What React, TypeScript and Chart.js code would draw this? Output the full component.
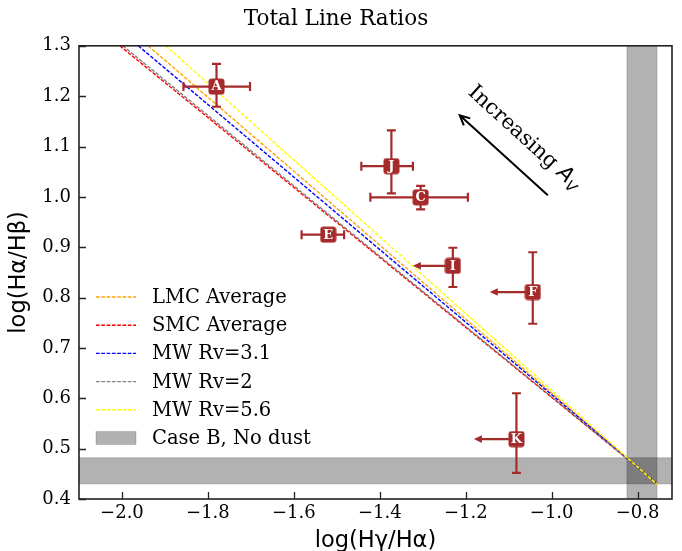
import React, { useEffect, useRef } from 'react';
import { Chart, registerables } from 'chart.js';

Chart.register(...registerables);

// ---- Data ----
const xTickValues = [-2.0, -1.8, -1.6, -1.4, -1.2, -1.0, -0.8];
const yTickValues = [0.4, 0.5, 0.6, 0.7, 0.8, 0.9, 1.0, 1.1, 1.2, 1.3];

const pointLabels = ['A', 'J', 'C', 'E', 'I', 'F', 'K'];
const pointX = [-1.780, -1.373, -1.305, -1.520, -1.230, -1.044, -1.082];
const pointY = [1.219, 1.061, 0.999, 0.925, 0.863, 0.811, 0.519];
const xErrMinus = [0.077, 0.070, 0.117, 0.062, 0, 0, 0];
const xErrPlus = [0.078, 0.050, 0.110, 0.037, 0, 0, 0];
const yErrMinus = [0.040, 0.054, 0.024, 0, 0.042, 0.063, 0.067];
const yErrPlus = [0.045, 0.071, 0.023, 0, 0.036, 0.079, 0.091];
const xUpperLimitLength = [0, 0, 0, 0, 0.093, 0.100, 0.099];

const curveNames = ['LMC Average', 'SMC Average', 'MW Rv=3.1', 'MW Rv=2', 'MW Rv=5.6'];
const curveColors = ['#ffa500', '#ff0000', '#0000ff', '#808080', '#ffff00'];
const curveStartX = [-1.939, -2.005, -1.962, -1.998, -1.898];
const curveStartY = [1.3, 1.3, 1.3, 1.3, 1.3];
const curveEndX = [-0.755, -0.755, -0.755, -0.755, -0.755];
const curveEndY = [0.4303, 0.4317, 0.4308, 0.4316, 0.4293];
const curveDrawOrder = [5, 4, 3, 2, 1];

const caseBX = [-0.825, -0.755];
const caseBY = [0.430, 0.482];
const caseBLabel = 'Case B, No dust';

const arrowTip = { x: -1.214, y: 1.162 };
const arrowTail = { x: -1.009, y: 1.003 };
const arrowTextPos = { x: -1.061, y: 1.120 };

const MARKER_COLOR = '#a52a2a';
const SERIF = "'DejaVu Serif', serif";
const SANS = "'DejaVu Sans', sans-serif";

const fmt = (v: number) => v.toFixed(1).replace('-', '\u2212');

function makeMarker(size: number, color: string) {
  const c = document.createElement('canvas');
  c.width = size;
  c.height = size;
  const g = c.getContext('2d')!;
  g.fillStyle = color;
  g.beginPath();
  (g as any).roundRect(0.5, 0.5, size - 1, size - 1, 3);
  g.fill();
  return c;
}

const overlayPlugin = {
  id: 'overlay',
  beforeDatasetsDraw(chart: any) {
    const { ctx, chartArea, scales } = chart;
    const x = scales.x, y = scales.y;
    ctx.save();
    ctx.beginPath();
    ctx.rect(chartArea.left, chartArea.top, chartArea.right - chartArea.left, chartArea.bottom - chartArea.top);
    ctx.clip();
    const x0 = x.getPixelForValue(caseBX[0]);
    const x1 = x.getPixelForValue(caseBX[1]);
    const y0 = y.getPixelForValue(caseBY[1]);
    const y1 = y.getPixelForValue(caseBY[0]);
    ctx.fillStyle = 'rgba(0,0,0,0.3)';
    ctx.strokeStyle = 'rgba(0,0,0,0.12)';
    ctx.lineWidth = 1.5;
    ctx.fillRect(x0, chartArea.top, x1 - x0, chartArea.bottom - chartArea.top);
    ctx.strokeRect(x0, chartArea.top - 5, x1 - x0, chartArea.bottom - chartArea.top + 10);
    ctx.fillRect(chartArea.left, y0, chartArea.right - chartArea.left, y1 - y0);
    ctx.strokeRect(chartArea.left - 5, y0, chartArea.right - chartArea.left + 10, y1 - y0);
    ctx.restore();
  },
  beforeDatasetDraw(chart: any, args: any) {
    if (args.index !== 0) return;
    const { ctx, scales } = chart;
    const x = scales.x, y = scales.y;
    ctx.save();
    ctx.strokeStyle = MARKER_COLOR;
    ctx.fillStyle = MARKER_COLOR;
    ctx.lineWidth = 2.2;
    const cap = 4.5;
    for (let i = 0; i < pointX.length; i++) {
      const px = x.getPixelForValue(pointX[i]);
      const py = y.getPixelForValue(pointY[i]);
      if (xErrMinus[i] || xErrPlus[i]) {
        const xl = x.getPixelForValue(pointX[i] - xErrMinus[i]);
        const xr = x.getPixelForValue(pointX[i] + xErrPlus[i]);
        ctx.beginPath();
        ctx.moveTo(xl, py); ctx.lineTo(xr, py);
        ctx.moveTo(xl, py - cap); ctx.lineTo(xl, py + cap);
        ctx.moveTo(xr, py - cap); ctx.lineTo(xr, py + cap);
        ctx.stroke();
      }
      if (yErrMinus[i] || yErrPlus[i]) {
        const yb = y.getPixelForValue(pointY[i] - yErrMinus[i]);
        const yt = y.getPixelForValue(pointY[i] + yErrPlus[i]);
        ctx.beginPath();
        ctx.moveTo(px, yb); ctx.lineTo(px, yt);
        ctx.moveTo(px - cap, yb); ctx.lineTo(px + cap, yb);
        ctx.moveTo(px - cap, yt); ctx.lineTo(px + cap, yt);
        ctx.stroke();
      }
      if (xUpperLimitLength[i]) {
        const xa = x.getPixelForValue(pointX[i] - xUpperLimitLength[i]);
        ctx.beginPath();
        ctx.moveTo(px, py); ctx.lineTo(xa + 5, py);
        ctx.stroke();
        ctx.beginPath();
        ctx.moveTo(xa, py);
        ctx.lineTo(xa + 8, py - 3.8);
        ctx.lineTo(xa + 8, py + 3.8);
        ctx.closePath();
        ctx.fill();
      }
    }
    ctx.restore();
  },
  afterDatasetsDraw(chart: any) {
    const { ctx, chartArea, scales } = chart;
    const x = scales.x, y = scales.y;
    ctx.save();
    // point letters
    const meta = chart.getDatasetMeta(0);
    ctx.fillStyle = '#ffffff';
    ctx.font = `bold 13px ${SERIF}`;
    ctx.textAlign = 'center';
    ctx.textBaseline = 'middle';
    meta.data.forEach((el: any, i: number) => {
      ctx.fillText(pointLabels[i], el.x, el.y + 0.5);
    });

    // annotation arrow
    const tx = x.getPixelForValue(arrowTip.x), ty = y.getPixelForValue(arrowTip.y);
    const sx = x.getPixelForValue(arrowTail.x), sy = y.getPixelForValue(arrowTail.y);
    const ang = Math.atan2(ty - sy, tx - sx);
    ctx.strokeStyle = '#000';
    ctx.lineWidth = 2;
    ctx.beginPath();
    ctx.moveTo(sx, sy);
    ctx.lineTo(tx, ty);
    const hl = 11, ha = 0.45;
    ctx.moveTo(tx - hl * Math.cos(ang - ha), ty - hl * Math.sin(ang - ha));
    ctx.lineTo(tx, ty);
    ctx.lineTo(tx - hl * Math.cos(ang + ha), ty - hl * Math.sin(ang + ha));
    ctx.stroke();

    // annotation text
    const cx = x.getPixelForValue(arrowTextPos.x), cy = y.getPixelForValue(arrowTextPos.y);
    ctx.translate(cx, cy);
    ctx.rotate(ang + Math.PI);
    ctx.fillStyle = '#000';
    ctx.textAlign = 'left';
    ctx.textBaseline = 'alphabetic';
    const mainFont = `21px ${SERIF}`;
    const aFont = `italic 21px ${SANS}`;
    const vFont = `italic 14.5px ${SANS}`;
    ctx.font = mainFont;
    const w1 = ctx.measureText('Increasing ').width;
    ctx.font = aFont;
    const w2 = ctx.measureText('A').width;
    ctx.font = vFont;
    const w3 = ctx.measureText('V').width;
    let startX = -(w1 + w2 + w3) / 2;
    const base = 7.5;
    ctx.font = mainFont;
    ctx.fillText('Increasing ', startX, base);
    startX += w1;
    ctx.font = aFont;
    ctx.fillText('A', startX, base);
    startX += w2;
    ctx.font = vFont;
    ctx.fillText('V', startX, base + 4);
    ctx.restore();

    // legend
    ctx.save();
    const rowY0 = 297, rowStep = 28.2, lx0 = 96, lx1 = 136, tx0 = 152;
    ctx.font = `19.5px ${SERIF}`;
    ctx.textAlign = 'left';
    ctx.textBaseline = 'middle';
    curveNames.forEach((name, i) => {
      const ry = rowY0 + i * rowStep;
      ctx.strokeStyle = curveColors[i];
      ctx.lineWidth = 1.4;
      ctx.setLineDash([3.7, 1.6]);
      ctx.beginPath();
      ctx.moveTo(lx0, ry);
      ctx.lineTo(lx1, ry);
      ctx.stroke();
      ctx.setLineDash([]);
      ctx.fillStyle = '#000';
      ctx.fillText(name, tx0, ry + 1);
    });
    const ry = rowY0 + curveNames.length * rowStep;
    ctx.fillStyle = 'rgba(0,0,0,0.3)';
    ctx.fillRect(lx0, ry - 6.5, lx1 - lx0, 13);
    ctx.strokeStyle = 'rgba(0,0,0,0.15)';
    ctx.lineWidth = 1.2;
    ctx.strokeRect(lx0, ry - 6.5, lx1 - lx0, 13);
    ctx.fillStyle = '#000';
    ctx.fillText(caseBLabel, tx0, ry + 1);
    ctx.restore();

    // inward ticks + frame
    ctx.save();
    ctx.strokeStyle = '#222';
    ctx.lineWidth = 1.3;
    ctx.beginPath();
    xTickValues.forEach((v) => {
      const p = Math.round(x.getPixelForValue(v)) + 0.5;
      ctx.moveTo(p, chartArea.bottom);
      ctx.lineTo(p, chartArea.bottom - 7);
    });
    yTickValues.forEach((v) => {
      const p = Math.round(y.getPixelForValue(v)) + 0.5;
      ctx.moveTo(chartArea.left, p);
      ctx.lineTo(chartArea.left + 7, p);
    });
    ctx.stroke();
    ctx.lineWidth = 1.6;
    ctx.strokeRect(chartArea.left, chartArea.top, chartArea.right - chartArea.left, chartArea.bottom - chartArea.top);
    ctx.restore();
  },
};

export default function App() {
  const ref = useRef<HTMLCanvasElement | null>(null);
  useEffect(() => {
    if (!ref.current) return;
    const marker = makeMarker(17, MARKER_COLOR);
    const lineDatasets = curveNames.map((name, i) => ({
      type: 'line' as const,
      label: name,
      data: [
        { x: curveStartX[i], y: curveStartY[i] },
        { x: curveEndX[i], y: curveEndY[i] },
      ],
      borderColor: curveColors[i],
      borderWidth: 1.4,
      borderDash: [3.7, 1.6],
      pointRadius: 0,
      fill: false,
      order: curveDrawOrder[i],
    }));
    const chart = new Chart(ref.current, {
      type: 'scatter',
      data: {
        datasets: [
          {
            type: 'scatter' as const,
            label: 'Regions',
            data: pointX.map((v, i) => ({ x: v, y: pointY[i] })),
            pointStyle: marker as any,
            pointRadius: 8,
            backgroundColor: MARKER_COLOR,
            order: 0,
          },
          ...lineDatasets,
        ] as any,
      },
      options: {
        responsive: false,
        maintainAspectRatio: false,
        animation: false,
        layout: { padding: { left: 0, right: 10, top: 0, bottom: 0 } },
        plugins: {
          legend: { display: false },
          tooltip: { enabled: false },
          title: {
            display: true,
            text: 'Total Line Ratios',
            color: '#000',
            font: { family: SERIF, size: 21.5, weight: 'normal' as any },
            padding: { top: 7, bottom: 13 },
          },
        },
        scales: {
          x: {
            type: 'linear',
            min: -2.1,
            max: -0.72,
            afterBuildTicks: (s: any) => {
              s.ticks = xTickValues.map((v) => ({ value: v }));
            },
            afterFit: (s: any) => {
              s.height = 52;
            },
            grid: { display: false, drawTicks: false },
            border: { display: false },
            ticks: {
              color: '#000',
              font: { family: SERIF, size: 18 },
              padding: 4,
              autoSkip: false,
              maxRotation: 0,
              callback: (v: any) => fmt(Number(v)),
            },
            title: {
              display: true,
              text: 'log(H\u03b3/H\u03b1)',
              color: '#000',
              font: { family: SANS, size: 22.5 },
              padding: { top: 0, bottom: -4 },
            },
          },
          y: {
            type: 'linear',
            min: 0.4,
            max: 1.3,
            afterBuildTicks: (s: any) => {
              s.ticks = yTickValues.map((v) => ({ value: v }));
            },
            afterFit: (s: any) => {
              s.width = 79;
            },
            grid: { display: false, drawTicks: false },
            border: { display: false },
            ticks: {
              color: '#000',
              font: { family: SERIF, size: 18 },
              padding: 8,
              autoSkip: false,
              callback: (v: any) => fmt(Number(v)),
            },
            title: {
              display: true,
              text: 'log(H\u03b1/H\u03b2)',
              color: '#000',
              font: { family: SANS, size: 22.5 },
              padding: { top: 6, bottom: 0 },
            },
          },
        },
      } as any,
      plugins: [overlayPlugin as any],
    });
    return () => chart.destroy();
  }, []);
  return (
    <div style={{ position: 'fixed', left: 0, top: 0, width: 682, height: 551, background: '#fff' }}>
      <canvas ref={ref} width={682} height={551} style={{ width: 682, height: 551, display: 'block' }} />
    </div>
  );
}
